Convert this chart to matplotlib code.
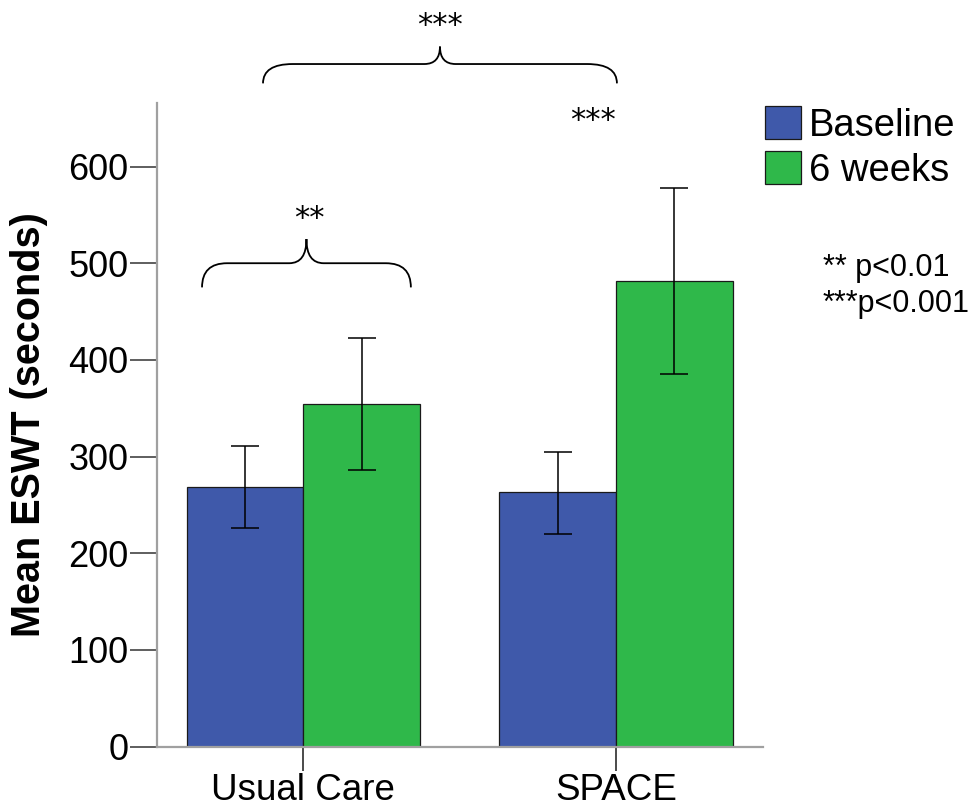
import numpy as np
import matplotlib
matplotlib.use("Agg")
from matplotlib import pyplot as plt
from matplotlib.path import Path
from matplotlib.patches import PathPatch

plt.rcParams['font.family'] = ['Liberation Sans', 'DejaVu Sans']

# data
groups = ["Usual Care", "SPACE"]
series = ["Baseline", "6 weeks"]
baseline_mean = [269, 263]
baseline_lo = [226, 220]
baseline_hi = [311, 305]
weeks6_mean = [354, 482]
weeks6_lo = [286, 385]
weeks6_hi = [423, 578]
yticks = [0, 100, 200, 300, 400, 500, 600]

blue = "#3F59AA"
green = "#2FB84A"

fig = plt.figure(figsize=(9.75, 8.11), dpi=100)
ax = fig.add_axes([0.1607, 0.0793, 0.6215, 0.7937])

x = np.arange(len(groups))
w = 0.3726

def yerr(mean, lo, hi):
    mean = np.array(mean)
    return [mean - np.array(lo), np.array(hi) - mean]

err_kw = dict(ecolor="black", elinewidth=1.1, capsize=10, capthick=1.1)
ax.bar(x - w / 2, baseline_mean, w, color=blue, edgecolor="#1a1a1a", linewidth=0.9,
       yerr=yerr(baseline_mean, baseline_lo, baseline_hi), error_kw=err_kw, label=series[0])
ax.bar(x + w / 2, weeks6_mean, w, color=green, edgecolor="#1a1a1a", linewidth=0.9,
       yerr=yerr(weeks6_mean, weeks6_lo, weeks6_hi), error_kw=err_kw, label=series[1])

ax.set_xlim(-0.469, 1.469)
ax.set_ylim(0, 665.7)
ax.set_yticks(yticks)
ax.set_xticks(x)
ax.set_xticklabels(groups)

for s in ["top", "right"]:
    ax.spines[s].set_visible(False)
for s in ["left", "bottom"]:
    ax.spines[s].set_color("#a0a0a0")
    ax.spines[s].set_linewidth(1.6)

ax.tick_params(axis="y", direction="out", length=19.5, width=1.1, color="#333333",
               labelsize=26, pad=1)
ax.tick_params(axis="x", direction="out", length=17, width=1.1, color="#1a1a1a",
               labelsize=26.5, pad=2)

ax.set_ylabel("Mean ESWT (seconds)", fontsize=28.5, fontweight="bold")
ax.yaxis.set_label_coords(-0.18, 0.5)

# curly braces
def brace(ax, x0, x1, xc, y_end, y_line, y_tip, r, c):
    verts = [(x0, y_end), (x0, y_line), (x0 + r, y_line),
             (xc - c, y_line), (xc, y_line), (xc, y_tip),
             (xc, y_line), (xc + c, y_line),
             (x1 - r, y_line), (x1, y_line), (x1, y_end)]
    codes = [Path.MOVETO, Path.CURVE3, Path.CURVE3,
             Path.LINETO, Path.CURVE3, Path.CURVE3,
             Path.CURVE3, Path.CURVE3,
             Path.LINETO, Path.CURVE3, Path.CURVE3]
    ax.add_patch(PathPatch(Path(verts, codes), facecolor="none", edgecolor="black",
                           linewidth=1.3, clip_on=False))

star_kw = dict(ha="center", va="center", fontsize=22, family="DejaVu Sans", clip_on=False)

brace(ax, -0.324, 0.344, 0.01, 475, 500, 525, 0.08, 0.055)
ax.text(0.02, 546, "**", **star_kw)

brace(ax, -0.129, 1.003, 0.437, 686, 706, 724, 0.095, 0.05)
ax.text(0.437, 746, "***", **star_kw)

ax.text(0.926, 648, "***", **star_kw)

fig.legend(loc="upper left", bbox_to_anchor=(0.7846, 0.869), frameon=False,
           fontsize=27.5, handlelength=0.95, handleheight=0.95, handletextpad=0.2,
           labelspacing=0.2, borderpad=0, borderaxespad=0)

fig.text(823 / 975, 1 - 276 / 811, "** p<0.01", fontsize=22, va="baseline")
fig.text(823 / 975, 1 - 312 / 811, "***p<0.001", fontsize=22, va="baseline")

fig.savefig("out.png", dpi=100)
